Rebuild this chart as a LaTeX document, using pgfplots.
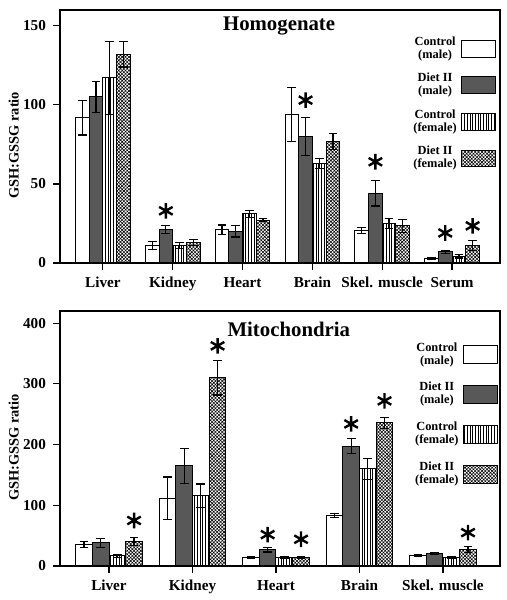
\documentclass[border=0pt]{standalone}
\usepackage{pgfplots}
\pgfplotsset{compat=1.18}
\usepackage{fontspec}
\setmainfont{Liberation Serif}
\usetikzlibrary{patterns.meta}
\definecolor{darkbar}{RGB}{88,88,88}
\pgfplotsset{
  panel/.style={
    scale only axis, width=220pt,
    xtick={0,1,2,3,4,5},
    tick align=outside, xtick pos=bottom, ytick pos=left,
    major tick length=3.5pt,
    ymin=0,
    axis line style={line width=0.6pt},
    every tick/.style={line width=0.6pt, black},
    ticklabel style={font=\bfseries\fontsize{7.6}{9}\selectfont},
    /pgf/number format/assume math mode=true,
    ylabel={GSH:GSSG ratio},
    ylabel style={font=\bfseries\fontsize{7.2}{8}\selectfont, at={(axis description cs:-0.105,0.465)}, anchor=center},
    legend style={draw=none, fill=none, font=\bfseries\fontsize{6.2}{6.5}\selectfont,
      cells={anchor=center}, nodes={align=center, inner sep=0pt}, column sep=2pt, anchor=north east},
    legend plot pos=right,
  },
  eb/.style={error bars/.cd, y dir=both, y explicit,
    error bar style={line width=0.6pt, black},
    error mark options={rotate=90, mark size=2.2pt, line width=0.6pt, black}},
  s1/.style={ybar, bar shift=0pt, fill=white, draw=black, line width=0.5pt},
  s2/.style={ybar, bar shift=0pt, fill=darkbar, draw=black, line width=0.5pt},
  s3/.style={ybar, bar shift=0pt, draw=black, line width=0.5pt, pattern={Lines[angle=90,distance=1.35pt,line width=0.3pt]}, pattern color=black},
  s4/.style={ybar, bar shift=0pt, draw=black, line width=0.5pt, pattern={Hatch[angle=45,distance=1.2pt,line width=0.28pt]}, pattern color=black},
  star/.style={only marks, mark=asterisk, mark size=3.9pt, line width=1.2pt, black, forget plot},
}
\begin{document}
\begin{tikzpicture}
\path[use as bounding box] (0,0) rectangle (253.5pt,300pt);
% ---------------- Homogenate ----------------
\begin{axis}[panel,
  at={(30pt,168.5pt)}, anchor=south west, height=126.5pt,
  xmin=-0.614, xmax=5.686, ymax=160,
  ytick={0,50,100,150},
  xticklabels={Liver,Kidney,Heart,Brain,Skel. muscle,Serum},
  legend style={at={(axis description cs:1.005,0.913)}, row sep=6pt},
  legend image code/.code={\draw[#1, line width=0.5pt, draw=black] (0pt,-4.2pt) rectangle (17pt,4.2pt);},
]
\addplot[s1, bar width=0.196, eb] coordinates {
  (-0.294,92) +- (0,11) (0.706,11.2) +- (0,2.5) (1.706,21) +- (0,3) (2.706,94) +- (0,17) (3.706,20.5) +- (0,2) (4.706,3) +- (0,0.5)};
\addlegendentry{Control\\(male)}
\addplot[s2, bar width=0.196, eb] coordinates {
  (-0.098,105) +- (0,10) (0.902,21) +- (0,2.5) (1.902,20) +- (0,3.5) (2.902,80) +- (0,12) (3.902,44) +- (0,8) (4.902,7) +- (0,1)};
\addlegendentry{Diet II\\(male)}
\addplot[s3, bar width=0.196, eb] coordinates {
  (0.098,117) +- (0,23) (1.098,11) +- (0,2) (2.098,31) +- (0,2) (3.098,63) +- (0,3) (4.098,25) +- (0,3) (5.098,4.2) +- (0,1)};
\addlegendentry{Control\\(female)}
\addplot[s4, bar width=0.196, eb] coordinates {
  (0.294,132) +- (0,8) (1.294,13) +- (0,2) (2.294,27) +- (0,1) (3.294,77) +- (0,5) (4.294,23.5) +- (0,4) (5.294,11) +- (0,3)};
\addlegendentry{Diet II\\(female)}
\addplot[star] coordinates {(0.902,33) (2.902,103) (3.902,64) (4.902,19) (5.294,23.5)};
\node[font=\bfseries\fontsize{10.4}{12}\selectfont] at (rel axis cs:0.498,0.937) {Homogenate};
\end{axis}
% ---------------- Mitochondria ----------------
\begin{axis}[panel,
  at={(30pt,17pt)}, anchor=south west, height=127.5pt,
  xmin=-0.587, xmax=4.683, ymax=420,
  ytick={0,100,200,300,400},
  xtick={0,1,2,3,4},
  xticklabels={Liver,Kidney,Heart,Brain,Skel. muscle},
  legend style={at={(axis description cs:1.009,0.894)}, row sep=7.6pt},
  legend image code/.code={\draw[#1, line width=0.5pt, draw=black] (0pt,-4.5pt) rectangle (17pt,4.5pt);},
]
\addplot[s1, bar width=0.2, eb] coordinates {
  (-0.3,35.8) +- (0,5) (0.7,111.7) +- (0,35) (1.7,14.3) +- (0,2) (2.7,83) +- (0,3) (3.7,17) +- (0,1.5)};
\addlegendentry{Control\\(male)}
\addplot[s2, bar width=0.2, eb] coordinates {
  (-0.1,38) +- (0,7) (0.9,165) +- (0,29) (1.9,27) +- (0,4) (2.9,197.5) +- (0,12.5) (3.9,20.4) +- (0,2)};
\addlegendentry{Diet II\\(male)}
\addplot[s3, bar width=0.2, eb] coordinates {
  (0.1,16.5) +- (0,2) (1.1,116) +- (0,19) (2.1,13.5) +- (0,1.5) (3.1,160) +- (0,17) (4.1,14.3) +- (0,1.5)};
\addlegendentry{Control\\(female)}
\addplot[s4, bar width=0.2, eb] coordinates {
  (0.3,40.7) +- (0,6.5) (1.3,310) +- (0,28.5) (2.3,14.8) +- (0,1.5) (3.3,236) +- (0,9) (4.3,27) +- (0,5)};
\addlegendentry{Diet II\\(female)}
\addplot[star] coordinates {(0.3,75) (1.3,362.6) (1.9,51.7) (2.3,44) (2.9,234) (3.3,272) (4.3,55)};
\node[font=\bfseries\fontsize{10.4}{12}\selectfont] at (rel axis cs:0.52,0.929) {Mitochondria};
\end{axis}
\end{tikzpicture}
\end{document}
